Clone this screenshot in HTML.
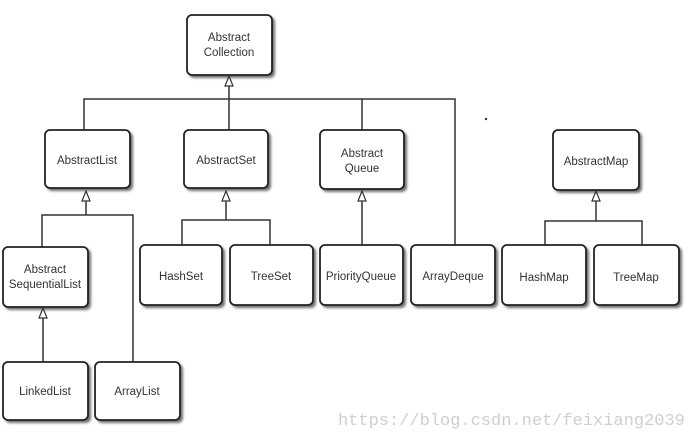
<!DOCTYPE html>
<html><head><meta charset="utf-8"><style>
html,body{margin:0;padding:0;background:#fff;}
svg{display:block;}
text{font-family:"Liberation Sans",sans-serif;font-size:11.5px;fill:#333;text-anchor:middle;}
.b{fill:#fff;stroke:#222;stroke-width:1.8;}
.s{fill:#333;opacity:.7;}
.l{stroke:#333;stroke-width:1.5;fill:none;}
.a{fill:#fff;stroke:#333;stroke-width:1.2;}
</style></head><body>
<svg width="688" height="439" viewBox="0 0 688 439">
<defs>
<filter id="f" x="-10%" y="-10%" width="130%" height="130%"><feGaussianBlur stdDeviation="1.3"/></filter>
</defs>
<g class="l">
<path d="M84 130V99H455V245"/>
<path d="M229 80V130"/>
<path d="M362 99V130"/>
<path d="M86 193V215M42 247V215H133V362"/>
<path d="M226 193V220M182 245V220H270V245"/>
<path d="M362 193V245"/>
<path d="M596 193V221M545 245V221H642V245"/>
<path d="M43 310V362"/>
</g>
<g class="a">
<path d="M229 76l-4 10h8z"/>
<path d="M86 191l-4 10h8z"/>
<path d="M226 191l-4 10h8z"/>
<path d="M362 191l-4 10h8z"/>
<path d="M596 191l-4 10h8z"/>
<path d="M43 308l-4 10h8z"/>
</g>
<g filter="url(#f)" class="s">
<rect x="189" y="17" width="86" height="61" rx="5"/>
<rect x="47" y="132" width="86" height="59" rx="5"/>
<rect x="186" y="132" width="85" height="59" rx="5"/>
<rect x="322" y="132" width="85" height="60" rx="5"/>
<rect x="555" y="132" width="87" height="61" rx="5"/>
<rect x="5" y="249" width="86" height="61" rx="5"/>
<rect x="142" y="247" width="83" height="61" rx="5"/>
<rect x="232" y="247" width="84" height="61" rx="5"/>
<rect x="322" y="247" width="84" height="61" rx="5"/>
<rect x="413" y="247" width="85" height="61" rx="5"/>
<rect x="504" y="247" width="85" height="61" rx="5"/>
<rect x="596" y="247" width="86" height="61" rx="5"/>
<rect x="5" y="364" width="86" height="59" rx="5"/>
<rect x="97" y="364" width="86" height="59" rx="5"/>
</g>
<rect class="b" x="187" y="15" width="85" height="60" rx="5"/>
<rect class="b" x="45" y="130" width="85" height="58" rx="5"/>
<rect class="b" x="184" y="130" width="84" height="58" rx="5"/>
<rect class="b" x="320" y="130" width="84" height="59" rx="5"/>
<rect class="b" x="553" y="130" width="86" height="60" rx="5"/>
<rect class="b" x="3" y="247" width="85" height="60" rx="5"/>
<rect class="b" x="140" y="245" width="82" height="60" rx="5"/>
<rect class="b" x="230" y="245" width="83" height="60" rx="5"/>
<rect class="b" x="320" y="245" width="83" height="60" rx="5"/>
<rect class="b" x="411" y="245" width="84" height="60" rx="5"/>
<rect class="b" x="502" y="245" width="84" height="60" rx="5"/>
<rect class="b" x="594" y="245" width="85" height="60" rx="5"/>
<rect class="b" x="3" y="362" width="85" height="58" rx="5"/>
<rect class="b" x="95" y="362" width="85" height="58" rx="5"/>
<text x="229" y="41">Abstract</text><text x="229" y="56">Collection</text>
<text x="87" y="164">AbstractList</text>
<text x="226" y="164">AbstractSet</text>
<text x="362" y="157">Abstract</text><text x="362" y="172">Queue</text>
<text x="596" y="165">AbstractMap</text>
<text x="45" y="273">Abstract</text><text x="45" y="288">SequentialList</text>
<text x="181" y="280">HashSet</text>
<text x="271" y="280">TreeSet</text>
<text x="361" y="280">PriorityQueue</text>
<text x="453" y="280">ArrayDeque</text>
<text x="544" y="281">HashMap</text>
<text x="636" y="281">TreeMap</text>
<text x="45" y="395">LinkedList</text>
<text x="137" y="395">ArrayList</text>
<circle cx="486" cy="119" r="1.2" fill="#333"/>
<text x="338" y="425" style="font-family:'Liberation Mono',monospace;font-size:17px;fill:#cfcfcf;text-anchor:start;">https://blog.csdn.net/feixiang2039</text>
</svg>
</body></html>
